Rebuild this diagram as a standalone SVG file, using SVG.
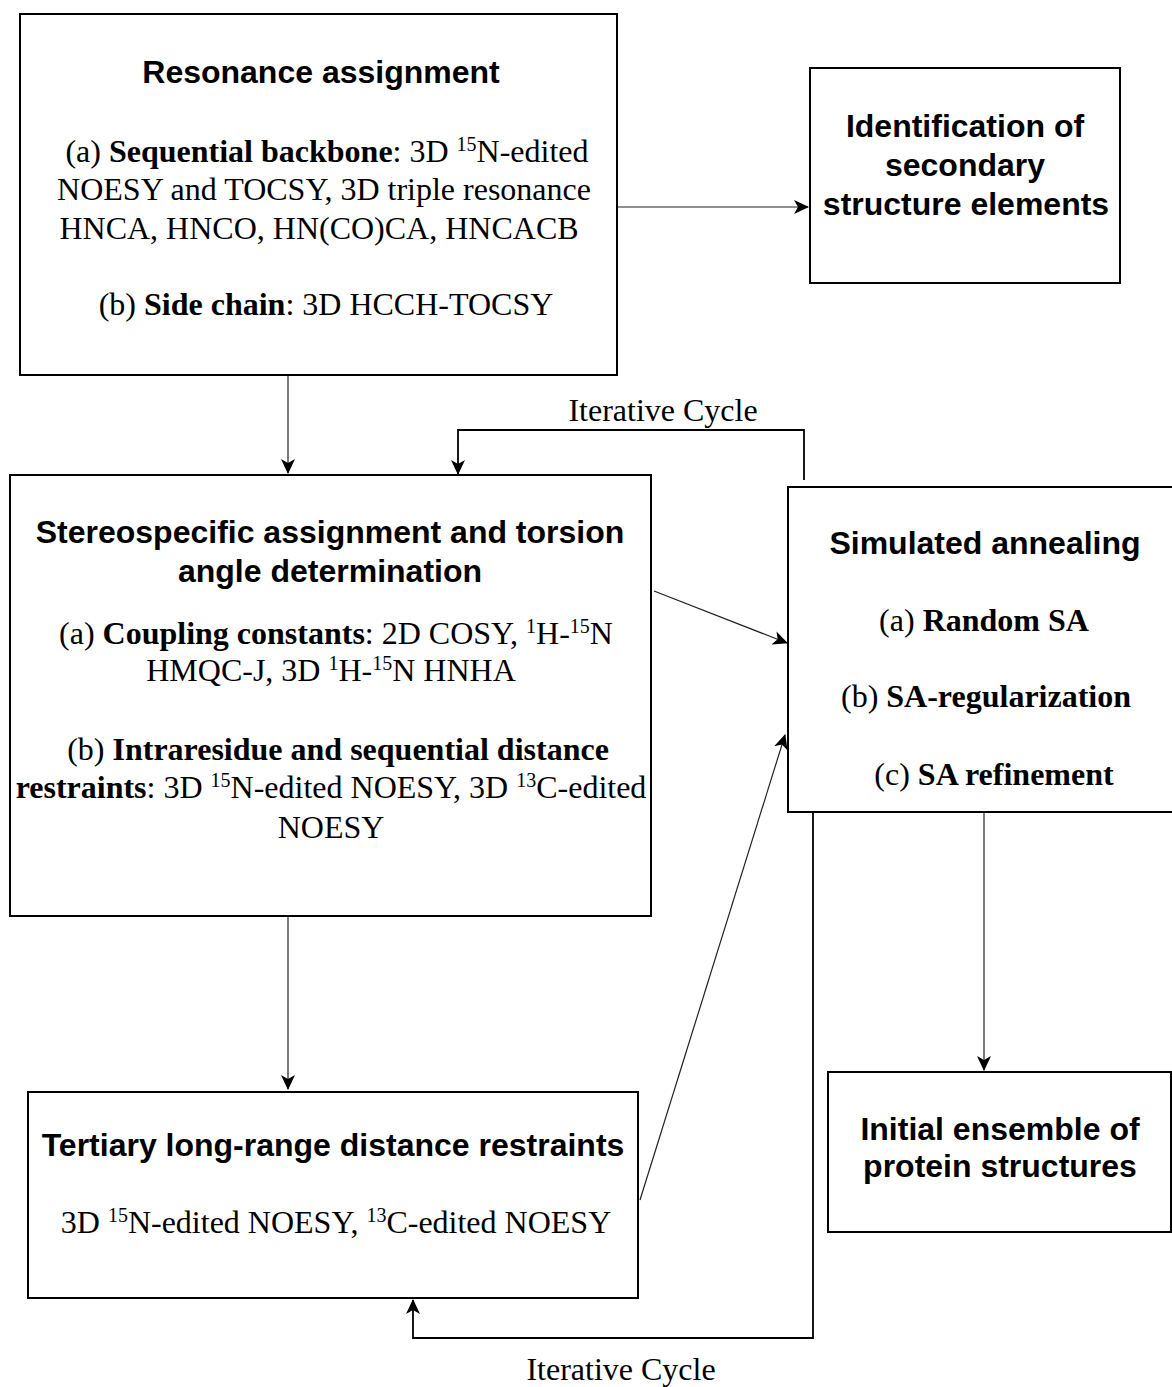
<svg xmlns="http://www.w3.org/2000/svg" width="1172" height="1387" viewBox="0 0 1172 1387">
<style>
.box{fill:#fff;stroke:#000;stroke-width:2}
.h{font-family:"Liberation Sans",Arial,sans-serif;font-weight:bold;font-size:32px;fill:#000;text-anchor:middle}
.t{font-family:"Liberation Serif","Times New Roman",serif;font-size:32px;fill:#000;text-anchor:middle}
.b{font-weight:bold}
.sup{font-size:20px}
.c{fill:none;stroke:#222;stroke-width:1.2}
.loop{fill:none;stroke:#000;stroke-width:1.8}
</style>
<defs>
<marker id="ah" markerUnits="userSpaceOnUse" markerWidth="16" markerHeight="14" refX="14" refY="7" orient="auto">
<path d="M0,0 L15,7 L0,14 L4,7 z" fill="#000"/>
</marker>
</defs>

<g id="connectors">
<line class="c" x1="617" y1="207" x2="808" y2="207" marker-end="url(#ah)"/>
<line class="c" x1="288" y1="376" x2="288" y2="473" marker-end="url(#ah)"/>
<line class="c" x1="654" y1="591" x2="787" y2="643" marker-end="url(#ah)"/>
<line class="c" x1="288" y1="917" x2="288" y2="1089" marker-end="url(#ah)"/>
<line class="c" x1="984" y1="813" x2="984" y2="1070" marker-end="url(#ah)"/>
<line class="c" x1="640" y1="1200" x2="785" y2="735" marker-end="url(#ah)"/>
<polyline class="loop" points="804,480 804,430 458,430 458,474" marker-end="url(#ah)"/>
<polyline class="loop" points="813,813 813,1338 413,1338 413,1300" marker-end="url(#ah)"/>
</g>

<g id="resonance">
<rect class="box" x="20" y="14" width="597" height="361"/>
<text class="h" x="321" y="83">Resonance assignment</text>
<text class="t" x="327" y="162">(a) <tspan class="b">Sequential backbone</tspan>:<tspan dx="8">3D </tspan><tspan class="sup" dy="-11">15</tspan><tspan dy="11">N-edited</tspan></text>
<text class="t" x="324" y="200">NOESY and TOCSY, 3D triple resonance</text>
<text class="t" x="319" y="239">HNCA, HNCO, HN(CO)CA, HNCACB</text>
<text class="t" x="326" y="315">(b) <tspan class="b">Side chain</tspan>:<tspan dx="8">3D HCCH-TOCSY</tspan></text>
</g>

<g id="secondary">
<rect class="box" x="810" y="68" width="310" height="215"/>
<text class="h" x="965" y="137">Identification of</text>
<text class="h" x="965" y="176">secondary</text>
<text class="h" x="966" y="215">structure elements</text>
</g>

<g id="cycle-labels">
<text class="t" x="663" y="421">Iterative Cycle</text>
<text class="t" x="621" y="1380">Iterative Cycle</text>
</g>

<g id="stereospecific">
<rect class="box" x="10" y="475" width="641" height="441"/>
<text class="h" x="330" y="543">Stereospecific assignment and torsion</text>
<text class="h" x="330" y="582">angle determination</text>
<text class="t" x="336" y="644">(a) <tspan class="b">Coupling constants</tspan>: 2D COSY, <tspan class="sup" dy="-11">1</tspan><tspan dy="11">H-</tspan><tspan class="sup" dy="-11">15</tspan><tspan dy="11">N</tspan></text>
<text class="t" x="331" y="681">HMQC-J, 3D <tspan class="sup" dy="-11">1</tspan><tspan dy="11">H-</tspan><tspan class="sup" dy="-11">15</tspan><tspan dy="11">N HNHA</tspan></text>
<text class="t" x="338" y="760">(b) <tspan class="b">Intraresidue and sequential distance</tspan></text>
<text class="t" x="331" y="798"><tspan class="b">restraints</tspan>: 3D <tspan class="sup" dy="-11">15</tspan><tspan dy="11">N-edited NOESY, 3D </tspan><tspan class="sup" dy="-11">13</tspan><tspan dy="11">C-edited</tspan></text>
<text class="t" x="331" y="838">NOESY</text>
</g>

<g id="annealing">
<rect class="box" x="788" y="487" width="400" height="325"/>
<text class="h" x="985" y="554">Simulated annealing</text>
<text class="t" x="984" y="631">(a) <tspan class="b">Random SA</tspan></text>
<text class="t" x="986" y="707">(b) <tspan class="b">SA-regularization</tspan></text>
<text class="t" x="994" y="785">(c) <tspan class="b">SA refinement</tspan></text>
</g>

<g id="tertiary">
<rect class="box" x="28" y="1092" width="610" height="206"/>
<text class="h" x="333" y="1156">Tertiary long-range distance restraints</text>
<text class="t" x="336" y="1233">3D <tspan class="sup" dy="-11">15</tspan><tspan dy="11">N-edited NOESY, </tspan><tspan class="sup" dy="-11">13</tspan><tspan dy="11">C-edited NOESY</tspan></text>
</g>

<g id="ensemble">
<rect class="box" x="828" y="1072" width="343" height="160"/>
<text class="h" x="1000" y="1140">Initial ensemble of</text>
<text class="h" x="1000" y="1177">protein structures</text>
</g>
</svg>
